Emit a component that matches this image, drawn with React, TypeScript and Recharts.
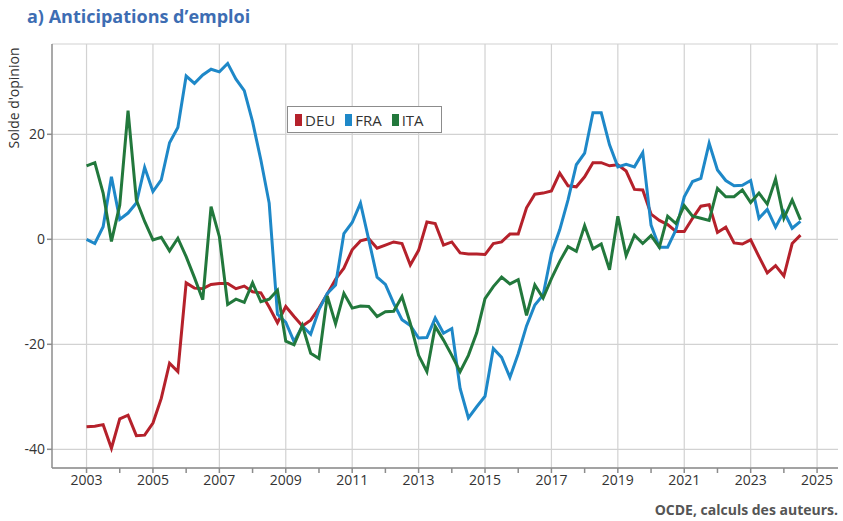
import { LineChart, Line, XAxis, YAxis, CartesianGrid, ReferenceLine } from 'recharts';

// quarterly observations, first point = 2003 Q1
const START_YEAR = 2003;

const deu = [
  -35.7, -35.6, -35.3, -39.8, -34.2, -33.5, -37.4, -37.3, -35.0, -30.3, -23.6, -25.2,
  -8.3, -9.3, -9.4, -8.6, -8.4, -8.4, -9.4, -8.9, -10.0, -10.2, -12.9, -15.9,
  -12.8, -14.7, -16.5, -15.4, -13.1, -10.4, -7.6, -5.5, -2.0, -0.3, 0.1, -1.7,
  -1.1, -0.5, -0.8, -4.9, -2.1, 3.3, 3.0, -1.1, -0.5, -2.6, -2.8, -2.8,
  -2.9, -0.8, -0.5, 1.0, 1.0, 6.0, 8.6, 8.8, 9.2, 12.6, 10.2, 10.0,
  11.9, 14.6, 14.6, 14.0, 14.2, 13.0, 9.5, 9.4, 4.8, 3.6, 2.8, 1.5,
  1.5, 4.0, 6.3, 6.6, 1.3, 2.3, -0.7, -0.9, -0.1, -3.3, -6.4, -5.0,
  -7.0, -0.8, 0.8,
];

const fra = [
  0, -0.8, 2.4, 11.9, 3.8, 5.0, 6.9, 13.7, 9.1, 11.3, 18.4, 21.3,
  31.1, 29.7, 31.3, 32.4, 31.9, 33.5, 30.5, 28.3, 22.4, 15.1, 6.9, -14.3,
  -15.8, -19.5, -16.5, -18.1, -13.4, -10.3, -8.7, 1.1, 3.2, 6.9, -0.1, -7.2,
  -8.6, -12.2, -15.3, -16.4, -18.8, -18.7, -15.0, -17.9, -17.0, -28.4, -34.0, -31.9,
  -29.9, -20.8, -22.5, -26.3, -21.8, -16.5, -12.5, -10.6, -2.7, 1.8, 7.5, 14.2,
  16.4, 24.1, 24.1, 18.0, 13.8, 14.3, 13.8, 16.5, 2.7, -1.5, -1.5, 1.8,
  8.1, 11.0, 11.6, 18.3, 13.2, 11.2, 10.2, 10.3, 11.2, 4.0, 5.7, 2.3,
  5.3, 2.1, 3.4,
];

const ita = [
  14.0, 14.6, 8.8, -0.4, 6.5, 24.5, 7.5, 3.4, -0.1, 0.4, -2.2, 0.2,
  -3.3, -7.3, -11.5, 6.2, 0.5, -12.4, -11.4, -12.0, -8.3, -11.9, -11.4, -9.7,
  -19.4, -20.1, -16.4, -21.7, -22.7, -10.8, -16.1, -10.3, -13.1, -12.7, -12.8, -14.7,
  -13.8, -13.7, -10.9, -16.0, -22.1, -25.2, -16.6, -19.2, -22.1, -25.2, -22.1, -17.8,
  -11.3, -9.0, -7.2, -8.5, -7.7, -14.5, -8.7, -11.2, -7.5, -4.2, -1.4, -2.3,
  2.6, -1.8, -0.9, -5.8, 4.4, -3.1, 0.8, -0.8, 0.7, -1.5, 4.4, 3.0,
  6.4, 4.4, 4.0, 3.6, 9.7, 8.1, 8.1, 9.4, 7.0, 8.8, 6.7, 11.5,
  4.0, 7.5, 3.7,
];

const yearTicks = [
  2003, 2004, 2005, 2006, 2007, 2008, 2009, 2010, 2011, 2012, 2013, 2014,
  2015, 2016, 2017, 2018, 2019, 2020, 2021, 2022, 2023, 2024, 2025,
];
const gridYears = [2003, 2005, 2007, 2009, 2011, 2013, 2015, 2017, 2019, 2021, 2023, 2025];
const valueTicks = [-40, -20, 0, 20];

const series = [
  { key: 'DEU', color: '#b5212b' },
  { key: 'FRA', color: '#1e88c8' },
  { key: 'ITA', color: '#22783c' },
];

const data = deu.map((v, i) => ({
  t: START_YEAR + i / 4,
  DEU: v,
  FRA: fra[i],
  ITA: ita[i],
}));

const FONT = '"Open Sans", "Noto Sans", sans-serif';
const AXIS = '#8c8c8c';
const GRID = '#d2d2d2';

export default function App() {
  return (
    <div style={{ position: 'absolute', left: 0, top: 0, width: 843, height: 521, background: '#fff', fontFamily: FONT }}>
      <div style={{ position: 'absolute', left: 27, top: 4, fontSize: 18, fontWeight: 700, color: '#3d6db3', whiteSpace: 'nowrap' }}>
        a) Anticipations d’emploi
      </div>

      {/* x axis takes 30px of the bottom margin */}
      <LineChart width={843} height={521} data={data} margin={{ top: 44, right: 5, bottom: 23, left: 0 }}>
        <CartesianGrid vertical={false} stroke={GRID} strokeWidth={1.2} />
        {gridYears.map((y) => (
          <ReferenceLine key={y} x={y} stroke={GRID} strokeWidth={1.2} />
        ))}
        <XAxis
          type="number"
          dataKey="t"
          domain={[2001.96, 2025.63]}
          ticks={yearTicks}
          interval={0}
          allowDataOverflow
          tickFormatter={(y: number) => (y % 2 === 1 ? String(y) : '')}
          stroke={AXIS}
          strokeWidth={1.5}
          tickSize={5}
          tick={{ fill: '#333', fontSize: 14, fontFamily: FONT }}
        />
        <YAxis
          width={52}
          domain={[-43.56, 37.2]}
          ticks={valueTicks}
          allowDataOverflow
          stroke={AXIS}
          strokeWidth={1.5}
          tickSize={5}
          tick={{ fill: '#333', fontSize: 14, fontFamily: FONT }}
        />
        {series.map((s) => (
          <Line
            key={s.key}
            type="linear"
            dataKey={s.key}
            stroke={s.color}
            strokeWidth={3}
            dot={false}
            isAnimationActive={false}
          />
        ))}
      </LineChart>

      <div
        style={{
          position: 'absolute',
          left: 13,
          top: 98,
          transform: 'translate(-50%, -50%) rotate(-90deg)',
          fontSize: 14,
          color: '#333',
          whiteSpace: 'nowrap',
        }}
      >
        Solde d'opinion
      </div>

      <div
        style={{
          position: 'absolute',
          left: 287,
          top: 106,
          width: 155,
          height: 27,
          border: '1px solid #8c8c8c',
          background: '#fff',
          display: 'flex',
          alignItems: 'center',
          paddingLeft: 7,
          boxSizing: 'border-box',
          fontSize: 15,
          color: '#333',
        }}
      >
        {series.map((s) => (
          <span key={s.key} style={{ display: 'flex', alignItems: 'center', marginRight: 10 }}>
            <span style={{ display: 'inline-block', width: 7, height: 12, background: s.color, marginRight: 3 }} />
            {s.key}
          </span>
        ))}
      </div>

      <div style={{ position: 'absolute', right: 5, top: 500, fontSize: 14, fontWeight: 700, color: '#555', whiteSpace: 'nowrap' }}>
        OCDE, calculs des auteurs.
      </div>
    </div>
  );
}
